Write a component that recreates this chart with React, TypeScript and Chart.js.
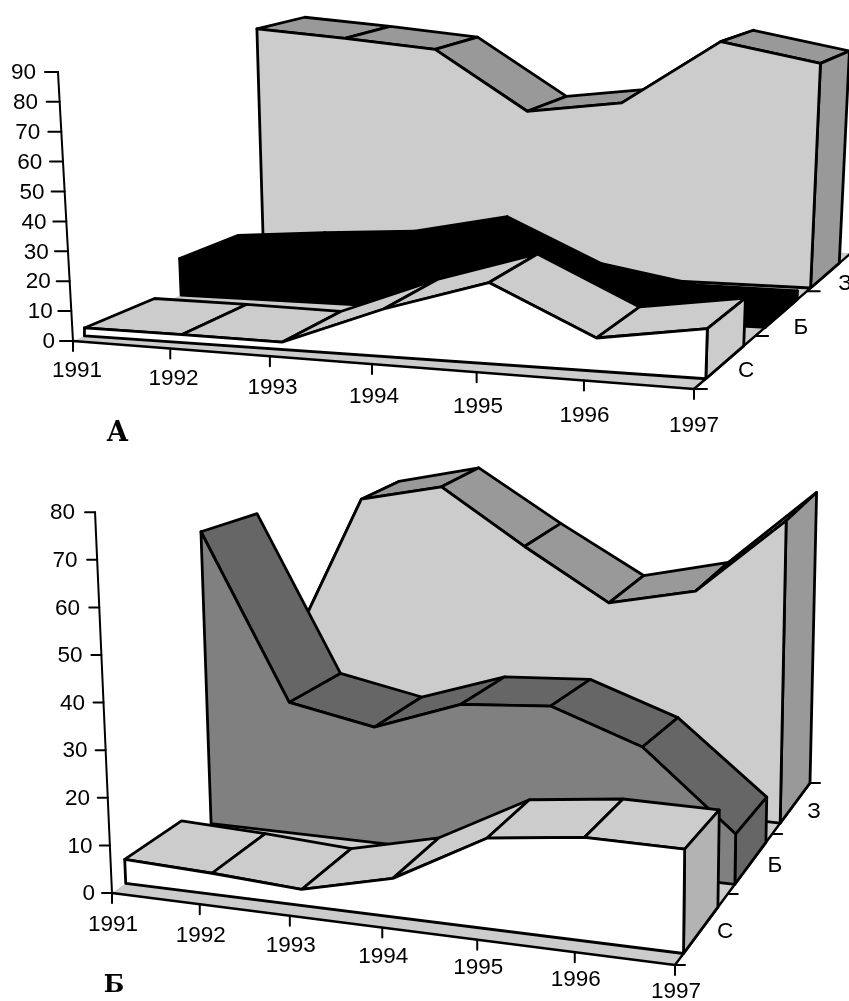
import React, { useEffect, useRef } from "react";
import { Chart, registerables } from "chart.js";

Chart.register(...registerables);

const YEARS = ["1991", "1992", "1993", "1994", "1995", "1996", "1997"];
const SERIES_NAMES = ["С", "Б", "З"];

// Panel A values
const A_S = [2.7, 2.7, 2.4, 15, 25, 10, 14.7];
const A_B = [13, 15.5, 17.5, 24, 9, 3.2, 3];
const A_Z = [87, 84, 80.5, 58.7, 62.6, 85, 78];
const A_TICKS = [0, 10, 20, 30, 40, 50, 60, 70, 80, 90];

// Panel B values
const B_S = [5.1, 4.4, 3.3, 7.8, 18, 20.2, 20];
const B_B = [67, 29.7, 26, 33, 34.5, 27.5, 10.8];
const B_Z = [28.5, 70, 75, 62, 50, 55, 74.5];
const B_TICKS = [0, 10, 20, 30, 40, 50, 60, 70, 80];

type Pt = { x: number; y: number };
type View = {
  p00: Pt; p60: Pt; p03: Pt; p63: Pt;
  qU: number; qL: number; qR: number;
  sL: number[]; sR: number[];
  vp: Pt;
  depthsL: number[][];
  depthsR: number[][];
  colors: { wall: string; top: string; side: string }[];
  ticks: number[];
  series: number[][];
  tickLen: number;
  depthTick: number;
  gap: number[];
  yearDy: number[];
  yearDx: number[];
  title: string; titlePos: Pt; titleFont: string;
  seriesLabelPos: Pt[];
};

const VIEW_A: View = {
  p00: { x: 73, y: 341 }, p60: { x: 694, y: 389 }, p03: { x: 332, y: 231 }, p63: { x: 851, y: 253 },
  qU: 1.077, qL: 0.905, qR: 0.784,
  sL: [2.99, 2.85, 2.68, 2.52], sR: [3.45, 3.2, 2.9, 2.65],
  vp: { x: 484, y: 7702 },
  depthsL: [[0.125, 0.885], [1.18, 1.85], [2.15, 2.72]],
  depthsR: [[0.18, 0.8], [1.18, 1.8], [2.08, 2.72]],
  colors: [
    { wall: "#ffffff", top: "#cccccc", side: "#cccccc" },
    { wall: "#000000", top: "#000000", side: "#000000" },
    { wall: "#cccccc", top: "#999999", side: "#999999" },
  ],
  ticks: A_TICKS, series: [A_S, A_B, A_Z], tickLen: 13, depthTick: 13,
  gap: [5, 9], yearDy: [29.5, 1.2], yearDx: [4, 0],
  title: "А", titlePos: { x: 117.5, y: 434 }, titleFont: "bold 27px 'DejaVu Serif'",
  seriesLabelPos: [{ x: 746, y: 371 }, { x: 801, y: 328 }, { x: 845, y: 284 }],
};

const VIEW_B: View = {
  p00: { x: 112, y: 893 }, p60: { x: 675, y: 965 }, p03: { x: 345, y: 730 }, p63: { x: 810, y: 783 },
  qU: 1.083, qL: 0.84, qR: 0.78,
  sL: [4.76, 4.42, 4.0, 3.74], sR: [5.3, 4.75, 4.1, 3.9],
  vp: { x: 573, y: 11240 },
  depthsL: [[0.15, 0.8], [1.15, 1.85], [2.2, 2.72]],
  depthsR: [[0.15, 0.8], [1.15, 1.85], [2.2, 3.0]],
  colors: [
    { wall: "#ffffff", top: "#cccccc", side: "#b3b3b3" },
    { wall: "#808080", top: "#666666", side: "#666666" },
    { wall: "#cccccc", top: "#999999", side: "#999999" },
  ],
  ticks: B_TICKS, series: [B_S, B_B, B_Z], tickLen: 10, depthTick: 10,
  gap: [7, 10], yearDy: [32, -0.9], yearDx: [1, 1],
  title: "Б", titlePos: { x: 114, y: 986 }, titleFont: "bold 24px 'DejaVu Serif'",
  seriesLabelPos: [{ x: 725, y: 932 }, { x: 775, y: 866 }, { x: 814, y: 812 }],
};

const warp = (t: number, q: number) => t / (t + (1 - t) * q);
const lerp = (a: number, b: number, t: number) => a + (b - a) * t;
const table = (arr: number[], d: number) => {
  const i = Math.min(2, Math.floor(d));
  return lerp(arr[i], arr[i + 1], d - i);
};

function project(view: View, u: number, d: number, v: number): Pt {
  const t = d / 3;
  const fL = warp(t, view.qL);
  const fR = warp(t, view.qR);
  const s = warp(u / 6, view.qU);
  const lx = lerp(view.p00.x, view.p03.x, fL);
  const ly = lerp(view.p00.y, view.p03.y, fL);
  const rx = lerp(view.p60.x, view.p63.x, fR);
  const ry = lerp(view.p60.y, view.p63.y, fR);
  const bx = lerp(lx, rx, s);
  const by = lerp(ly, ry, s);
  const h = v * lerp(table(view.sL, d), table(view.sR, d), s);
  return { x: bx + ((bx - view.vp.x) / (view.vp.y - by)) * h, y: by - h };
}

function poly(points: Pt[], fillColor: string | null, stroke: string | null, width = 2.8) {
  const closed = fillColor !== null;
  return {
    type: "line" as const,
    data: closed ? [...points, points[0]] : points,
    fill: closed ? "shape" : false,
    backgroundColor: fillColor ?? "transparent",
    borderColor: stroke ?? "transparent",
    borderWidth: stroke ? width : 0,
    borderJoinStyle: "round" as const,
    borderCapStyle: "round" as const,
    pointRadius: 0,
    tension: 0,
    clip: false,
  };
}

function buildPanel(view: View) {
  const out: any[] = [];
  const depthAt = (si: number, k: number, u: number) => lerp(view.depthsL[si][k], view.depthsR[si][k], u / 6);
  // floor
  out.push(poly([
    project(view, 0, 0, 0), project(view, 6, 0, 0), project(view, 6, 3, 0), project(view, 0, 3, 0),
  ], "#cccccc", null));
  out.push(poly([project(view, 0, 0, 0), project(view, 6, 0, 0), project(view, 6, 3, 0)], null, "#000000", 2.4));

  // back to front
  for (let si = 2; si >= 0; si--) {
    const vals = view.series[si];
    const c = view.colors[si];
    for (let u = 0; u < 6; u++) {
      out.push(poly([
        project(view, u, depthAt(si, 0, u), vals[u]), project(view, u + 1, depthAt(si, 0, u + 1), vals[u + 1]),
        project(view, u + 1, depthAt(si, 1, u + 1), vals[u + 1]), project(view, u, depthAt(si, 1, u), vals[u]),
      ], c.top, "#000000"));
    }
    out.push(poly([
      project(view, 6, depthAt(si, 0, 6), vals[6]), project(view, 6, depthAt(si, 1, 6), vals[6]),
      project(view, 6, depthAt(si, 1, 6), 0), project(view, 6, depthAt(si, 0, 6), 0),
    ], c.side, "#000000"));
    const wall = vals.map((v, u) => project(view, u, depthAt(si, 0, u), v));
    wall.push(project(view, 6, depthAt(si, 0, 6), 0), project(view, 0, depthAt(si, 0, 0), 0));
    out.push(poly(wall, c.wall, "#000000"));
  }

  // value axis and ticks
  const maxV = view.ticks[view.ticks.length - 1];
  out.push(poly([project(view, 0, 0, 0), project(view, 0, 0, maxV)], null, "#000000", 2));
  view.ticks.forEach((t) => {
    const p = project(view, 0, 0, t);
    out.push(poly([p, { x: p.x - view.tickLen, y: p.y }], null, "#000000", 2));
  });
  // year ticks
  YEARS.forEach((_, u) => {
    const p = project(view, u, 0, 0);
    out.push(poly([p, { x: p.x, y: p.y + 10 }], null, "#000000", 2));
  });
  // depth ticks
  [0, 1, 2, 3].forEach((d) => {
    const p = project(view, 6, d, 0);
    out.push(poly([p, { x: p.x + view.depthTick, y: p.y }], null, "#000000", 2));
  });
  return out;
}

function drawPanelText(ctx: CanvasRenderingContext2D, chart: any, view: View) {
  const X = (v: number) => chart.scales.x.getPixelForValue(v);
  const Y = (v: number) => chart.scales.y.getPixelForValue(v);
  const maxV = view.ticks[view.ticks.length - 1];
  ctx.fillStyle = "#000000";
  ctx.textBaseline = "middle";
  ctx.font = "22.5px 'Liberation Sans'";
  ctx.textAlign = "right";
  view.ticks.forEach((t) => {
    const p = project(view, 0, 0, t);
    const gap = lerp(view.gap[0], view.gap[1], t / maxV);
    ctx.fillText(String(t), X(p.x - view.tickLen - gap), Y(p.y + 1));
  });
  ctx.textAlign = "center";
  YEARS.forEach((label, u) => {
    const p = project(view, u, 0, 0);
    ctx.fillText(label, X(p.x + lerp(view.yearDx[0], view.yearDx[1], u / 6)), Y(p.y + view.yearDy[0] + view.yearDy[1] * u));
  });
  SERIES_NAMES.forEach((label, i) => {
    const p = view.seriesLabelPos[i];
    ctx.fillText(label, X(p.x), Y(p.y));
  });
  ctx.font = view.titleFont;
  ctx.fillText(view.title, X(view.titlePos.x), Y(view.titlePos.y));
}

const textPlugin = {
  id: "panelText",
  afterDatasetsDraw(chart: any) {
    const ctx = chart.ctx;
    ctx.save();
    drawPanelText(ctx, chart, VIEW_A);
    drawPanelText(ctx, chart, VIEW_B);
    ctx.restore();
  },
};

export default function App() {
  const ref = useRef<HTMLCanvasElement | null>(null);
  useEffect(() => {
    if (!ref.current) return;
    const datasets = [...buildPanel(VIEW_A), ...buildPanel(VIEW_B)].reverse();
    const chart = new Chart(ref.current, {
      type: "line",
      data: { datasets },
      options: {
        animation: false,
        responsive: false,
        layout: { padding: 0 },
        parsing: { xAxisKey: "x", yAxisKey: "y" },
        scales: {
          x: { type: "linear", min: 0, max: 849, display: false },
          y: { type: "linear", min: 0, max: 1001, reverse: true, display: false },
        },
        plugins: { legend: { display: false }, tooltip: { enabled: false } },
      },
      plugins: [textPlugin],
    } as any);
    return () => chart.destroy();
  }, []);
  return (
    <canvas
      ref={ref}
      width={849}
      height={1001}
      style={{ position: "absolute", left: 0, top: 0, width: 849, height: 1001, background: "#ffffff" }}
    />
  );
}
